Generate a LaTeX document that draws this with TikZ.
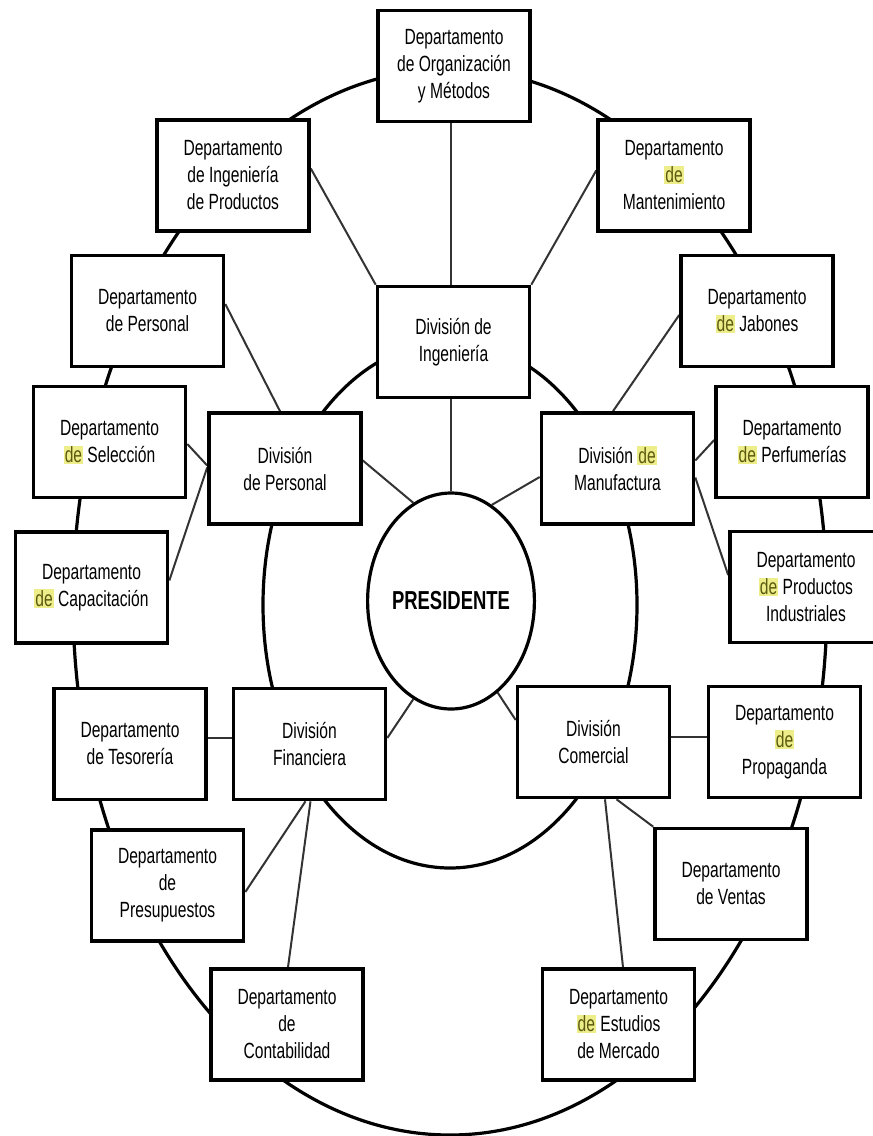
\documentclass[tikz,border=0pt]{standalone}
\usepackage{fontspec}
\setmainfont{Liberation Sans}[FakeStretch=0.71]
\usetikzlibrary{calc,shapes.geometric}
\pgfdeclarelayer{bg}
\pgfsetlayers{bg,main}
\definecolor{hly}{HTML}{EDED8A}
\definecolor{hlt}{HTML}{5A5A10}
% marked word "de"
\newcommand\hl[1]{{\setlength{\fboxsep}{0.5pt}\colorbox{hly}{\textcolor{hlt}{#1}}}}

\begin{document}
\begin{tikzpicture}[x=0.5pt,y=-0.5pt,
  unit/.style={draw=black, line width=1.8pt, fill=white, rectangle,
    minimum width=76pt, minimum height=55.5pt, inner sep=0pt, align=center,
    font=\fontsize{11}{13.5}\selectfont},
  link/.style={line width=1pt, draw=black!80},
  ring/.style={line width=1.6pt, draw=black}]

\useasboundingbox (0,0) rectangle (873,1136);
\clip (0,0) rectangle (873,1136);
\begin{pgfonlayer}{bg}
  \fill[white] (0,0) rectangle (873,1136);
\end{pgfonlayer}

% rings
\draw[ring] (450,602) ellipse [x radius=377, y radius=533];
\draw[ring] (450,605) ellipse [x radius=187, y radius=263];

% president
\node[ellipse, draw=black, line width=1.6pt, fill=white, minimum width=76pt,
  minimum height=108pt, inner sep=0pt,
  font=\bfseries\fontsize{13}{15}\selectfont] (pres) at (451,601) {PRESIDENTE};

% divisions
\node[unit] (divIng) at (453.5,342)   {División de\\Ingeniería};
\node[unit] (divPer) at (285,468.5)   {División\\de Personal};
\node[unit] (divMan) at (617.5,468.5) {División \hl{de}\\Manufactura};
\node[unit] (divFin) at (309.5,744)   {División\\Financiera};
\node[unit] (divCom) at (593.5,742)   {División\\Comercial};

% departments
\node[unit] (org)     at (454,66)      {Departamento\\de Organización\\y Métodos};
\node[unit] (ingprod) at (233,175.5)   {Departamento\\de Ingeniería\\de Productos};
\node[unit] (mant)    at (674,175.5)   {Departamento\\\hl{de}\\Mantenimiento};
\node[unit] (perdep)  at (147.5,311)   {Departamento\\de Personal};
\node[unit] (jab)     at (757,311)     {Departamento\\\hl{de} Jabones};
\node[unit] (sel)     at (109.5,442)   {Departamento\\\hl{de} Selección};
\node[unit] (perf)    at (792,442)     {Departamento\\\hl{de} Perfumerías};
\node[unit] (cap)     at (91.5,587.5)  {Departamento\\\hl{de} Capacitación};
\node[unit] (prodInd) at (806,587)     {Departamento\\\hl{de} Productos\\Industriales};
\node[unit] (tes)     at (130,744)     {Departamento\\de Tesorería};
\node[unit] (prop)    at (784.5,742)   {Departamento\\\hl{de}\\Propaganda};
\node[unit] (presu)   at (167.5,885.5) {Departamento\\de\\Presupuestos};
\node[unit] (ventas)  at (731,884)     {Departamento\\de Ventas};
\node[unit] (cont)    at (287,1024.5)  {Departamento\\de\\Contabilidad};
\node[unit] (est)     at (618.5,1024.5){Departamento\\\hl{de} Estudios\\de Mercado};

% connectors
\begin{pgfonlayer}{bg}
  \draw[link] (pres.north) -- (pres.north |- org.south);
  \draw[link] (divIng.north west) -- ($(ingprod.east)+(0,-7)$);
  \draw[link] (divIng.north east) -- ($(mant.west)+(0,-5)$);
  \draw[link] ($(divPer.north)+(-5,0)$) -- ($(perdep.east)+(0,-7)$);
  \draw[link] ($(divPer.west)+(0,-3)$) -- ($(sel.east)+(0,2)$);
  \draw[link] ($(divPer.west)+(0,-1)$) -- ($(cap.east)+(0,-7)$);
  \draw[link] ($(divPer.east)+(0,-8)$) -- (pres.111);
  \draw[link] ($(divFin.east)+(0,-6)$) -- (pres.249);
  \draw[link] ($(divFin.west)+(0,-6)$) -- ($(tes.east)+(0,-6)$);
  \draw[link] ($(divFin.south)+(-4,0)$) -- ($(presu.east)+(0,6.5)$);
  \draw[link] ($(divFin.south)+(1,0)$) -- ($(cont.north)+(1,0)$);
  \draw[link] ($(divMan.north)+(-4.5,0)$) -- ($(jab.west)+(0,4)$);
  \draw[link] ($(divMan.west)+(0,8.5)$) -- (pres.67);
  \draw[link] ($(divMan.east)+(0,-8)$) -- ($(perf.west)+(0,-2)$);
  \draw[link] ($(divMan.east)+(0,9)$) -- ($(prodInd.west)+(0,-12)$);
  \draw[link] ($(divCom.west)+(0,-22)$) -- (pres.297);
  \draw[link] ($(divCom.east)+(0,-5)$) -- ($(prop.west)+(0,-5)$);
  \draw[link] ($(divCom.south)+(11.5,0)$) -- ($(est.north)+(4.5,0)$);
  \draw[link] ($(divCom.south)+(23,0)$) -- (ventas.north west);
\end{pgfonlayer}
\end{tikzpicture}
\end{document}
